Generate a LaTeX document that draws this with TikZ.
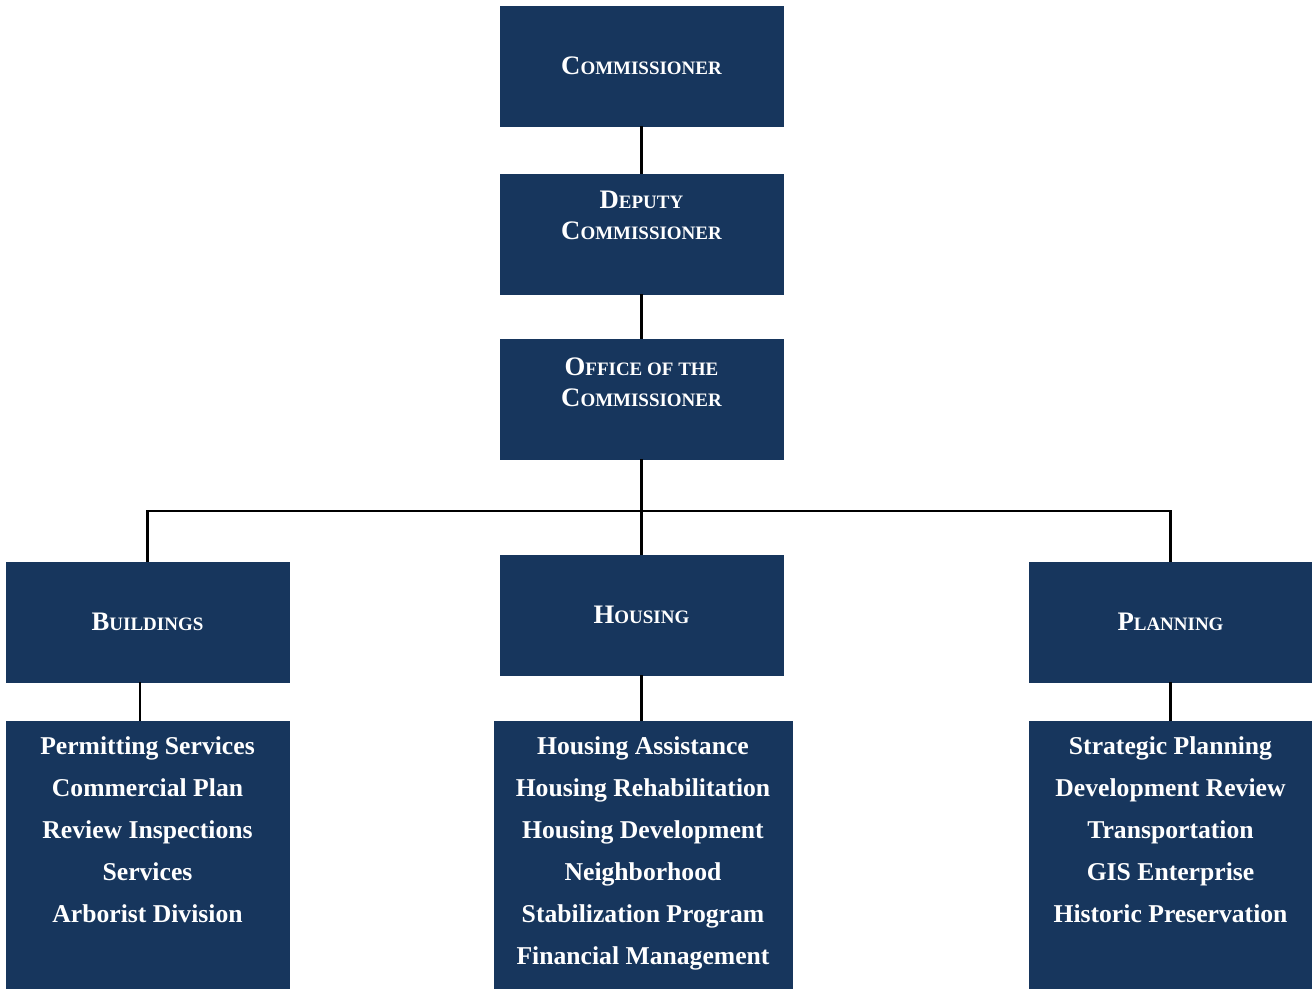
\documentclass[tikz,border=0pt]{standalone}
\usepackage{fontspec}
\setmainfont{Liberation Serif}
\usepackage{tikz}
\usetikzlibrary{positioning}
\definecolor{unit}{HTML}{17365D}
\newcommand{\smcap}[2]{{\fontsize{15.2}{17.6}\selectfont #1}{\fontsize{10.8}{17.6}\selectfont #2}}
\tikzset{unit/.style={white,draw=unit,fill=unit,rectangle,minimum width=5.66cm,minimum height=2.4cm,font=\bfseries}}
\tikzset{head/.style={white,align=center,inner sep=0pt,font=\bfseries\fontsize{10.8}{17.6}\selectfont}}
\tikzset{list/.style={white,align=center,inner sep=0pt,font=\bfseries\fontsize{14.6}{23.9}\selectfont}}
\tikzset{link/.style={black,line width=1.2pt}}

\begin{document}
\begin{tikzpicture}
    \useasboundingbox (0,0) rectangle (26.24,-19.76);

    \node[unit] (comm) at (12.83,-1.32) {\smcap{C}{OMMISSIONER}};

    \node[unit] (dep) at (12.83,-4.68) {};
    \node[head, below=0.34cm of dep.north] (deptext) {\smcap{D}{EPUTY}\\\smcap{C}{OMMISSIONER}};

    \node[unit] (off) at (12.83,-7.98) {};
    \node[head, below=0.38cm of off.north] (offtext) {\smcap{O}{FFICE OF THE}\\\smcap{C}{OMMISSIONER}};

    \node[unit] (bldg) at (2.95,-12.44) {\smcap{B}{UILDINGS}};
    \node[unit] (hous) at (12.83,-12.3) {\smcap{H}{OUSING}};
    \node[unit] (plan) at (23.41,-12.44) {\smcap{P}{LANNING}};

    \node[unit,minimum height=5.34cm] (bldlist) at (2.95,-17.09) {};
    \node[unit,minimum width=5.96cm,minimum height=5.34cm] (houslist) at (12.86,-17.09) {};
    \node[unit,minimum height=5.34cm] (planlist) at (23.41,-17.09) {};

    \node[list, below=0.32cm of bldlist.north] (bldtext) {Permitting Services\\Commercial Plan\\Review Inspections\\Services\\Arborist Division};
    \node[list, below=0.32cm of houslist.north] (houstext) {Housing Assistance\\Housing Rehabilitation\\Housing Development\\Neighborhood\\Stabilization Program\\Financial Management};
    \node[list, below=0.32cm of planlist.north] (plantext) {Strategic Planning\\Development Review\\Transportation\\GIS Enterprise\\Historic Preservation};

    \coordinate (bar) at (12.83,-10.22);

    \draw[link] (comm) -- (dep);
    \draw[link] (dep) -- (off);
    \draw[link] (off) -- (hous);

    \draw[link] (bldg.north) |- (bar) -| (plan.north);

    \draw[link] ([xshift=-0.15cm]bldg.south) -- ([xshift=-0.15cm]bldlist.north);
    \draw[link] (hous.south) -- (hous.south |- houslist.north);
    \draw[link] (plan) -- (planlist);
\end{tikzpicture}
\end{document}
